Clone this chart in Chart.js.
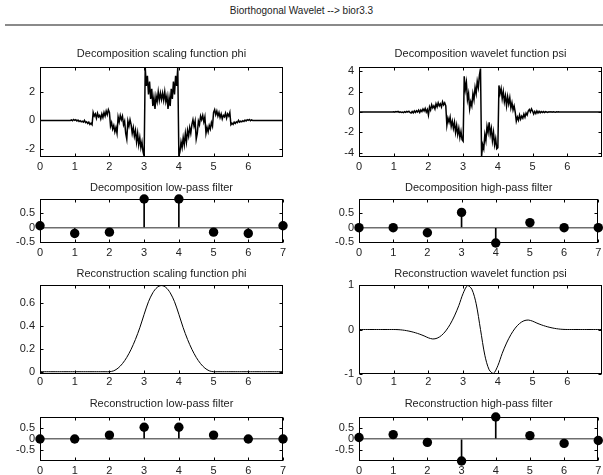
<!DOCTYPE html>
<html><head><meta charset="utf-8">
<script src="https://cdn.jsdelivr.net/npm/chart.js@4.4.1/dist/chart.umd.min.js"></script>
<style>
html,body{margin:0;padding:0;background:#fff;width:603px;height:475px;overflow:hidden;position:relative;font-family:"Liberation Sans",Arial,sans-serif;}
canvas{position:absolute;}
#mainTitle{position:absolute;left:0;width:603px;top:4px;text-align:center;font-size:10px;line-height:14px;color:#222;}
#rule{position:absolute;left:5px;top:24px;width:598px;height:2px;background:#8a8a8a;}
</style></head><body>
<div id="mainTitle">Biorthogonal Wavelet --&gt; bior3.3</div>
<div id="rule"></div>
<script>
// ---------------- data ----------------
const decStep = 1/32;   // sampling step of the decomposition functions
const recStep = 0.125;  // sampling step of the reconstruction functions

const phiDec = [
0,0,0,0,0,0,0,0,0,0,0,0,0,0,0,0,0,0,0,0,0,0,0,0,0,0,0,0,
0.0,0.04,-0.02,0.06,0.0,0.05,-0.04,0.02,-0.08,-0.02,-0.1,-0.05,-0.12,0.0,-0.15,-0.1,-0.22,-0.12,-0.28,-0.2,-0.3,
0.55,0.3,0.45,0.15,0.5,0.25,0.35,0.1,0.45,0.2,0.55,0.3,0.65,0.4,0.75,0.55,
-0.4,-0.15,-0.6,-0.35,-0.8,-0.5,-0.9,0.25,-0.1,0.35,0.05,0.3,-0.3,-0.05,-0.9,-1.3,
-0.05,-0.4,0.05,-0.3,-0.9,-0.5,-1.1,-0.7,-1.5,-0.9,-1.7,-1.2,-1.9,-1.5,-2.2,-2.5,
3.7,2.4,3.1,1.8,2.7,1.5,2.2,1.0,1.6,0.8,1.7,1.3,2.0,1.4,1.9,1.45,
1.9,1.4,2.0,1.3,1.7,0.8,1.6,1.0,2.2,1.5,2.7,1.8,3.1,2.4,3.7,-2.5,
-2.2,-1.5,-1.9,-1.2,-1.7,-0.9,-1.5,-0.7,-1.1,-0.5,-0.9,-0.3,0.05,-0.4,-0.05,-1.3,
-0.9,-0.05,-0.3,0.3,0.05,0.35,-0.1,0.25,-0.9,-0.5,-0.8,-0.35,-0.6,-0.15,-0.4,0.55,
0.75,0.4,0.65,0.3,0.55,0.2,0.45,0.1,0.35,0.25,0.5,0.15,0.45,0.3,0.55,-0.3,
-0.2,-0.28,-0.12,-0.22,-0.1,-0.15,0.0,-0.12,-0.05,-0.1,-0.02,-0.08,0.02,-0.04,0.05,0.0,0.06,-0.02,0.04,0.0,
0,0,0,0,0,0,0,0,0,0,0,0,0,0,0,0,0,0,0,0,0,0,0,0,0,0,0,0
];

const psiDec = [
0,0,0,0,0,0,0,0,0,0,0,0,0,0,0,0,0,0,0,0,0,0,0,0,0,0,0,0,0,0,0,0,
0.03,-0.02,0.04,0,0.05,-0.03,0.02,-0.05,0.0,-0.06,0.03,-0.04,0.06,0.0,0.08,-0.05,
-0.1,0.05,-0.08,0.1,-0.05,0.12,0.0,0.18,-0.05,0.2,0.05,0.3,0.1,0.35,0.0,0.25,
-0.3,0.5,0.2,0.7,0.4,0.6,0.3,0.8,0.5,0.9,0.6,0.8,0.5,1.0,0.7,0.9,0.6,
-1.3,-0.6,-1.0,-0.5,-1.4,-0.9,-1.6,-1.0,-2.0,-1.3,-2.2,-1.6,-2.5,-1.9,-2.7,-2.85,
3.5,2.2,2.9,1.2,1.8,0.3,1.0,0.6,1.8,1.2,2.4,1.8,3.0,2.4,3.6,4.25,
-4.35,-3.2,-3.6,-2.2,-2.8,-1.4,-2.0,-1.0,-2.2,-1.6,-2.8,-2.0,-3.2,-2.6,-3.6,-3.5,
2.6,1.8,2.3,1.3,2.0,1.0,1.6,0.6,1.5,0.8,1.4,0.4,0.9,0.2,0.6,0.0,
-0.9,-0.5,-0.8,-0.3,-0.7,-0.4,-0.6,-0.2,-0.5,-0.1,-0.3,0.1,0.25,0.0,0.3,0.1,
-0.2,0.05,-0.15,0.1,-0.1,0.06,-0.08,0.05,-0.05,0.04,-0.06,0.03,0.0,-0.04,0.03,0.0,
0.03,-0.02,0.02,0.0,-0.03,0.02,0.0,0.02,-0.01,0.01,0.0,0.01,
0,0,0,0,0,0,0,0,0,0,0,0,0,0,0,0,0,0,0,0,0,0,0,0,0,0,0,0,0,0,0,0,0,0,0,0
];

const phiRec = [
0,0,0,0,0,0,0,0,0,0,0,0,0,0,0,0,0,
0.0078,0.0313,0.0703,0.125,0.1953,0.2813,0.3828,0.5,0.6094,0.6875,0.7344,0.75,
0.7344,0.6875,0.6094,0.5,0.3828,0.2813,0.1953,0.125,0.0703,0.0313,0.0078,
0,0,0,0,0,0,0,0,0,0,0,0,0,0,0,0,0
];

const psiRec = [
0,0,0,0,0,0,0,0,0,
-0.0029,-0.0117,-0.0264,-0.0469,-0.0732,-0.1055,-0.1436,-0.1875,-0.2129,-0.1953,-0.1348,-0.0313,
0.1152,0.3047,0.5371,0.8125,0.9844,0.9063,0.5781,0,-0.5781,-0.9063,-0.9844,-0.8125,
-0.5371,-0.3047,-0.1152,0.0313,0.1348,0.1953,0.2129,0.1875,0.1436,0.1055,0.0732,0.0469,
0.0264,0.0117,0.0029,
0,0,0,0,0,0,0,0,0
];

const filterIdx = [0,1,2,3,4,5,6,7];
const loD = [0.0663,-0.1989,-0.1547,0.9944,0.9944,-0.1547,-0.1989,0.0663];
const hiD = [0,0,-0.1768,0.5303,-0.5303,0.1768,0,0];
const loR = [0,0,0.1768,0.5303,0.5303,0.1768,0,0];
const hiR = [0.0663,0.1989,-0.1547,-0.9944,0.9944,0.1547,-0.1989,-0.0663];

const funcXTicks = [0,1,2,3,4,5,6];
const filterXTicks = [0,1,2,3,4,5,6,7];
const phiDecYTicks = [-2,0,2];
const psiDecYTicks = [-4,-2,0,2,4];
const filterYTicks = [-0.5,0,0.5];
const phiRecYTicks = [0,0.2,0.4,0.6];
const psiRecYTicks = [-1,0,1];

// ---------------- drawing ----------------
Chart.defaults.font.family = '"Liberation Sans", Arial, sans-serif';
Chart.defaults.font.size = 11;
Chart.defaults.color = '#222';
Chart.defaults.animation = false;

const boxPlugin = {
  id: 'matlabBox',
  afterDatasetsDraw(chart) {
    const {ctx, chartArea: a, scales} = chart;
    const x = scales.x, y = scales.y;
    ctx.save();
    ctx.strokeStyle = '#000';
    ctx.lineWidth = 1;
    const L = Math.round(a.left) + 0.5, R = Math.round(a.right) - 0.5;
    const T = Math.round(a.top) + 0.5, B = Math.round(a.bottom) - 0.5;
    ctx.strokeRect(L, T, R - L, B - T);
    ctx.beginPath();
    x.ticks.forEach(t => {
      const p = Math.round(x.getPixelForValue(t.value)) + 0.5;
      ctx.moveTo(p, B); ctx.lineTo(p, B - 3);
      ctx.moveTo(p, T); ctx.lineTo(p, T + 3);
    });
    y.ticks.forEach(t => {
      const p = Math.round(y.getPixelForValue(t.value)) + 0.5;
      ctx.moveTo(L, p); ctx.lineTo(L + 3, p);
      ctx.moveTo(R, p); ctx.lineTo(R - 3, p);
    });
    ctx.stroke();
    ctx.restore();
  }
};

function makePlot(o) {
  const cv = document.createElement('canvas');
  const top = o.titleCenter - 6;
  const height = o.canvasBottom - top;
  cv.width = o.width; cv.height = height;
  cv.style.left = o.left + 'px'; cv.style.top = top + 'px';
  cv.style.width = o.width + 'px'; cv.style.height = height + 'px';
  document.body.appendChild(cv);
  const yAxisW = o.boxLeft - o.left;
  const xAxisH = o.canvasBottom - o.boxBottom;
  const padR = o.left + o.width - o.boxRight;
  const titlePadB = o.boxTop - top - 12;
  new Chart(cv.getContext('2d'), {
    type: o.type,
    data: {datasets: o.datasets},
    options: {
      responsive: false,
      devicePixelRatio: 1,
      animation: false,
      events: [],
      layout: {padding: {left: 0, right: padR, top: 0, bottom: 0}},
      plugins: {
        legend: {display: false},
        tooltip: {enabled: false},
        title: {display: true, text: o.title, color: '#222', fullSize: false,
                font: {size: 11, weight: 'normal', lineHeight: '12px'},
                padding: {top: 0, bottom: titlePadB}}
      },
      scales: {
        x: {type: 'linear', min: 0, max: 7, offset: false, bounds: 'data',
            afterBuildTicks: s => { s.ticks = o.xTicks.map(v => ({value: v})); },
            afterFit: s => { s.height = xAxisH; s.paddingLeft = 0; s.paddingRight = 0; },
            grid: {display: false, drawTicks: false}, border: {display: false},
            ticks: {padding: o.xPad, color: '#222', maxRotation: 0, autoSkip: false, callback: v => String(v)}},
        y: {type: 'linear', min: o.yMin, max: o.yMax, bounds: 'data',
            afterBuildTicks: s => { s.ticks = o.yTicks.map(v => ({value: v})); },
            afterFit: s => { s.width = yAxisW; },
            grid: o.zeroLine
              ? {display: true, drawTicks: false, lineWidth: 1.5,
                 color: c => (c.tick && c.tick.value === 0) ? '#6e6e6e' : 'rgba(0,0,0,0)'}
              : {display: false, drawTicks: false},
            border: {display: false},
            ticks: {padding: 5, color: '#222', autoSkip: false, callback: v => String(v)}}
      }
    },
    plugins: [boxPlugin]
  });
}

function funcSet(values, step, tension, width) {
  return [{type: 'line', data: values.map((v, i) => ({x: i * step, y: v})),
           borderColor: '#000', borderWidth: width, pointRadius: 0, tension: tension, fill: false}];
}
function stemSet(values) {
  const pts = filterIdx.map((k, i) => ({x: k, y: values[i]}));
  return [
    {type: 'bar', data: pts, backgroundColor: '#000', borderWidth: 0, barThickness: 1, grouped: false},
    {type: 'line', data: pts, showLine: false, pointRadius: 4.7, pointBackgroundColor: '#000',
     pointBorderColor: '#000', pointBorderWidth: 0, clip: false}
  ];
}

const colL = {left: 0, width: 300, boxLeft: 40, boxRight: 283};
const colR = {left: 300, width: 303, boxLeft: 359, boxRight: 602};

const rows = [
  {titleCenter: 54, boxTop: 67, boxBottom: 157, canvasBottom: 175, xPad: 3},
  {titleCenter: 188, boxTop: 199, boxBottom: 243, canvasBottom: 261, xPad: 3},
  {titleCenter: 274, boxTop: 285, boxBottom: 374, canvasBottom: 392, xPad: 1},
  {titleCenter: 404, boxTop: 417, boxBottom: 461, canvasBottom: 475, xPad: 3}
];

makePlot(Object.assign({}, colL, rows[0], {type: 'line', title: 'Decomposition scaling function phi',
  datasets: funcSet(phiDec, decStep, 0, 1.5), xTicks: funcXTicks, yTicks: phiDecYTicks, yMin: -2.55, yMax: 3.72}));
makePlot(Object.assign({}, colR, rows[0], {type: 'line', title: 'Decomposition wavelet function psi',
  datasets: funcSet(psiDec, decStep, 0, 1.5), xTicks: funcXTicks, yTicks: psiDecYTicks, yMin: -4.4, yMax: 4.4}));
makePlot(Object.assign({}, colL, rows[1], {type: 'bar', title: 'Decomposition low-pass filter',
  datasets: stemSet(loD), xTicks: filterXTicks, yTicks: filterYTicks, yMin: -0.5303, yMax: 0.9944, zeroLine: true}));
makePlot(Object.assign({}, colR, rows[1], {type: 'bar', title: 'Decomposition high-pass filter',
  datasets: stemSet(hiD), xTicks: filterXTicks, yTicks: filterYTicks, yMin: -0.5303, yMax: 0.9944, zeroLine: true}));
makePlot(Object.assign({}, colL, rows[2], {type: 'line', title: 'Reconstruction scaling function phi',
  datasets: funcSet(phiRec, recStep, 0.3, 1), xTicks: funcXTicks, yTicks: phiRecYTicks, yMin: -0.02, yMax: 0.755}));
makePlot(Object.assign({}, colR, rows[2], {type: 'line', title: 'Reconstruction wavelet function psi',
  datasets: funcSet(psiRec, recStep, 0.3, 1), xTicks: funcXTicks, yTicks: psiRecYTicks, yMin: -1.0, yMax: 1.0}));
makePlot(Object.assign({}, colL, rows[3], {type: 'bar', title: 'Reconstruction low-pass filter',
  datasets: stemSet(loR), xTicks: filterXTicks, yTicks: filterYTicks, yMin: -0.9944, yMax: 0.9944, zeroLine: true}));
makePlot(Object.assign({}, colR, rows[3], {type: 'bar', title: 'Reconstruction high-pass filter',
  datasets: stemSet(hiR), xTicks: filterXTicks, yTicks: filterYTicks, yMin: -0.9944, yMax: 0.9944, zeroLine: true}));
</script>
</body></html>
